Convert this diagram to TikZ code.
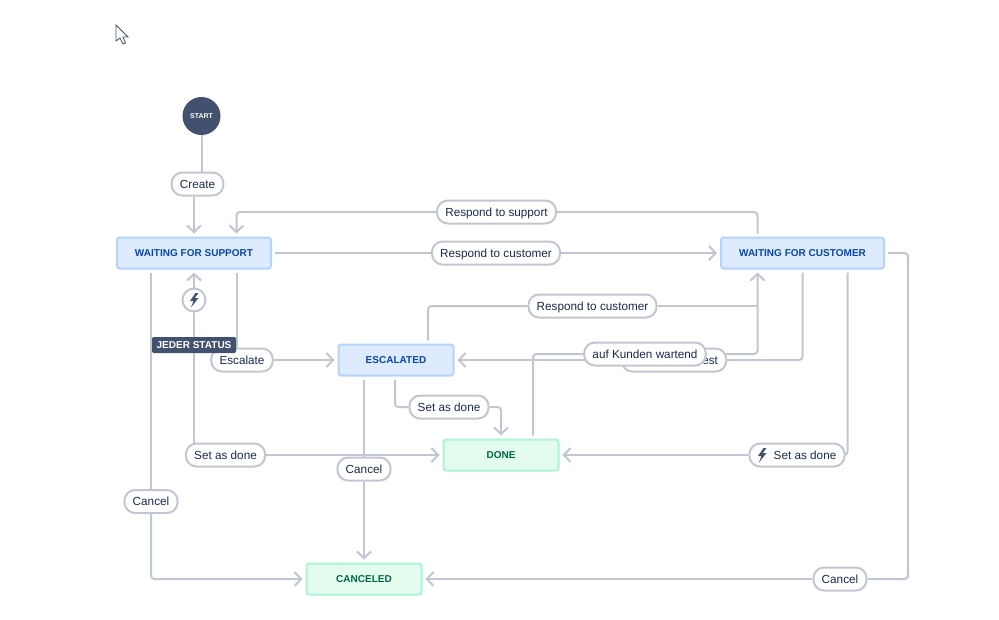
\documentclass[tikz,border=0pt]{standalone}
\usepackage{fontspec}
\setmainfont{Liberation Sans}
\usetikzlibrary{arrows.meta,calc,backgrounds}
\definecolor{flowgray}{HTML}{C1C7D0}
\definecolor{darkslate}{HTML}{42526E}
\definecolor{labelink}{HTML}{172B4D}
\definecolor{blueback}{HTML}{DEEBFF}
\definecolor{blueedge}{HTML}{B3D4FF}
\definecolor{blueink}{HTML}{0747A6}
\definecolor{greenback}{HTML}{E3FCEF}
\definecolor{greenedge}{HTML}{ABF5D1}
\definecolor{greenink}{HTML}{006644}

\begin{document}
\begin{tikzpicture}[x=0.75pt, y=-0.75pt,
    status/.style={rectangle, draw, line width=1.5pt, rounded corners=2pt, minimum height=23.25pt, minimum width=86.25pt, outer sep=3pt, font=\fontsize{7.5}{9}\bfseries\addfontfeatures{LetterSpace=0.2}},
    bluebox/.style={status, draw=blueedge, fill=blueback, text=blueink},
    greenbox/.style={status, draw=greenedge, fill=greenback, text=greenink},
    pill/.style={rectangle, draw=flowgray, fill=white, line width=1.5pt, rounded corners=8pt, minimum height=17.25pt, inner xsep=6.2pt, inner ysep=0pt, text height=8pt, text depth=1.5pt, text=labelink, font=\fontsize{8.8}{11}\selectfont},
    flow/.style={draw=flowgray, line width=1.5pt, rounded corners=2.5pt},
    arrow/.style={flow, -{Straight Barb[length=5pt,width=10.5pt]}},
    bolt/.pic={\fill[darkslate] (1.5,-7) -- (-4,1) -- (-0.5,1) -- (-3,7.5) -- (4.5,-2) -- (0.8,-2) -- (4.5,-7) -- cycle;}]
    \useasboundingbox (0,0) rectangle (999,619);
    % pointer
    \draw[fill=white, draw=darkslate, line width=0.6pt] (116,25) -- (116,41) -- (120,38) -- (123,44) -- (125.5,43) -- (123,37) -- (128,37) -- cycle;
    % statuses
    \node [circle, fill=darkslate, minimum size=28.5pt, inner sep=0pt, outer sep=0pt, text=white, font=\fontsize{5.2}{6}\bfseries] (start) at (201.5,116) {START};
    \node [bluebox, minimum width=115.5pt] (support) at (194,253) {WAITING FOR SUPPORT};
    \node [bluebox, minimum width=122.25pt] (customer) at (802.5,253) {WAITING FOR CUSTOMER};
    \node [bluebox] (escalated) at (396,360) {ESCALATED};
    \node [greenbox] (done) at (501,455) {DONE};
    \node [greenbox] (canceled) at (364,579) {CANCELED};
    % labels
    \node [pill] (create) at (197.5,184) {Create};
    \node [pill] (resupport) at (496.5,212) {Respond to support};
    \node [pill] (recustomer) at (496,253) {Respond to customer};
    \node [pill] (recustomer2) at (592.5,306) {Respond to customer};
    \node [pill] (escalate) at (242,360) {Escalate};
    \node [pill, text width=66pt, align=right] (request) at (674,360) {est};
    \node [pill] (waiting) at (645,354) {auf Kunden wartend};
    \node [pill] (doneesc) at (449,407) {Set as done};
    \node [pill] (doneany) at (225.5,455) {Set as done};
    \node [pill] (doneauto) at (797,455) {\hspace{12pt}Set as done};
    \node [pill] (cancelsup) at (151,501.5) {Cancel};
    \node [pill] (cancelesc) at (364,469) {Cancel};
    \node [pill] (cancelcus) at (840,579) {Cancel};
    \node [circle, draw=flowgray, fill=white, line width=1.5pt, minimum size=17.25pt, inner sep=0pt] (trigger) at (194,300) {};
    \node [rectangle, fill=darkslate, rounded corners=1pt, minimum width=63pt, minimum height=12pt, inner sep=0pt, text=white, font=\fontsize{7.5}{9}\bfseries\addfontfeatures{LetterSpace=0.2}] (anystatus) at (194,345) {JEDER STATUS};
    \pic at (194,300) {bolt};
    \pic at (762,455) {bolt};
    % free ends
    \coordinate (custopl) at ($(customer.north)+(-45,0)$);
    \coordinate (cusbotl) at ($(customer.south)+(-45,0)$);
    \coordinate (cusbotr) at ($(customer.south)+(45,0)$);
    \coordinate (cusout) at ($(customer.east)+(20,0)$);
    \coordinate (suptopr) at ($(support.north)+(42.5,0)$);
    \coordinate (supbotr) at ($(support.south)+(43,0)$);
    \coordinate (esctop) at ($(escalated.north)+(32,0)$);
    \coordinate (escbot) at ($(escalated.south)+(-1,0)$);
    \coordinate (donetop) at ($(done.north)+(32,0)$);
    % connectors
    \begin{scope}[on background layer]
    \draw[flow] (start) -- (start |- create.north);
    \draw[arrow] (support.north |- create.south) -- (support.north);
    \draw[flow] (custopl) -- (custopl |- resupport) -- (resupport);
    \draw[arrow] (resupport) -- (suptopr |- resupport) -- (suptopr);
    \draw[flow] (support) -- (recustomer);
    \draw[arrow] (recustomer) -- (customer);
    \draw[flow] (esctop) -- (esctop |- recustomer2) -- (recustomer2);
    \draw[arrow] (waiting) -- (cusbotl |- waiting) -- (cusbotl);
    \draw[flow] (recustomer2) -- (cusbotl |- recustomer2);
    \draw[flow] (customer.south) -- (customer.south |- request) -- (request);
    \draw[arrow] (request) -- (escalated.east |- request);
    \draw[flow] (donetop) -- (donetop |- waiting) -- (waiting);
    \draw[flow] (supbotr) -- (supbotr |- escalate.north);
    \draw[arrow] (escalate) -- (escalated.west |- escalate);
    \draw[arrow] (support.south |- doneany.north) -- (support.south);
    \draw[arrow] (doneany) -- (done);
    \draw[flow] (escbot) -- (escbot |- doneesc) -- (doneesc);
    \draw[arrow] (doneesc) -- (done.north |- doneesc) -- (done.north);
    \draw[flow] (cancelesc.north |- escalated.south) -- (cancelesc);
    \draw[arrow] (cancelesc) -- (canceled.north);
    \draw[flow] (cusbotr) -- (cusbotr |- doneauto) -- (doneauto);
    \draw[arrow] (doneauto) -- (done);
    \draw[flow] (cancelsup.north |- support.south) -- (cancelsup);
    \draw[arrow] (cancelsup) -- (cancelsup |- canceled) -- (canceled);
    \draw[flow] (customer) -- (cusout) -- (cusout |- cancelcus) -- (cancelcus);
    \draw[arrow] (cancelcus) -- (canceled);
    \end{scope}
\end{tikzpicture}
\end{document}
